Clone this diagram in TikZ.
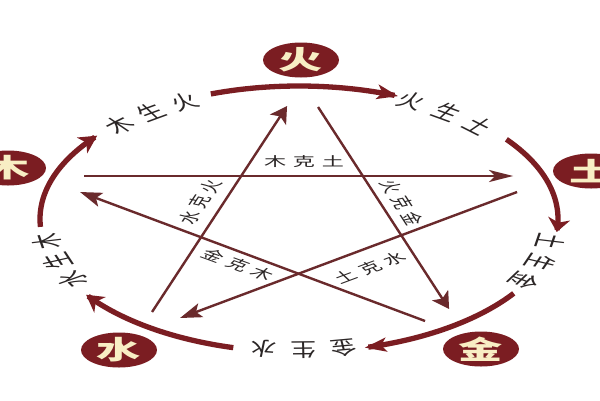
\documentclass[tikz,border=0pt]{standalone}
\usepackage{fontspec}
\newfontfamily\cjk{Noto Sans CJK SC}
\usetikzlibrary{arrows.meta,shapes.geometric}
\definecolor{wxred}{HTML}{7B1D22}
\definecolor{wxline}{HTML}{6A2A2C}
\definecolor{wxtext}{HTML}{2B2626}
\definecolor{wxcream}{HTML}{F8EEC4}
\tikzset{
  elem/.style={ellipse, fill=wxred, minimum width=44.7pt, minimum height=35pt, inner sep=0pt},
  elemtext/.style={text=wxcream, font=\cjk\bfseries\fontsize{26}{26}\selectfont, inner sep=0pt},
  gen/.style={xscale=0.8, text=wxtext, font=\cjk\fontsize{19}{19}\selectfont, inner sep=0pt},
  ke/.style={text=wxtext, font=\cjk\fontsize{13}{13}\selectfont, inner sep=0pt},
  kearrow/.style={draw=wxline, line width=2.4pt},
  genarrow/.style={draw=wxred, line width=5.3pt},
}
\begin{document}
\begin{tikzpicture}
\begin{scope}[x=0.5882353pt, y=-1pt, xscale=1.7, transform shape]
\useasboundingbox[fill=white] (0,0) rectangle (600,400);

% outer generating cycle
\draw[genarrow, -{Stealth[length=17.8pt,width=18.5pt,inset=5pt]}]
  plot[domain=183.4:141.2, samples=50] ({299+259*cos(\x)},{219-133*sin(\x)});
\draw[genarrow, -{Stealth[length=21pt,width=14.4pt,inset=5pt]}]
  plot[domain=109.9:67.5, samples=50] ({299+259*cos(\x)},{219-133*sin(\x)});
\draw[genarrow, -{Stealth[length=13.5pt,width=22pt,inset=4pt]}]
  plot[domain=36.8:-5.6, samples=50] ({299+259*cos(\x)},{219-133*sin(\x)});
\draw[genarrow, -{Stealth[length=21.5pt,width=13.8pt,inset=5pt]}]
  plot[domain=-34:-75.3, samples=50] ({299+259*cos(\x)},{219-133*sin(\x)});
\draw[genarrow, -{Stealth[length=17pt,width=19pt,inset=5pt]}]
  plot[domain=255.3:214.7, samples=50] ({299+259*cos(\x)},{219-133*sin(\x)});

\foreach \t/\c/\n in {134.5/木/g11, 125.5/生/g12, 116.5/火/g13,
                      64/火/g21, 54.7/生/g22, 45.4/土/g23,
                      -10/土/g31, -19.2/生/g32, -28.4/金/g33,
                      -80/金/g41, -89/生/g42, -98/水/g43,
                      207.5/水/g51, 198.7/生/g52, 190/木/g53}
  \node[rotate={atan2(-133*cos(\t),152.35*sin(\t))}, gen] (\n)
    at ({299+256*cos(\t)},{219-131*sin(\t)}) {\c};

% star (controlling cycle)
\coordinate (k1s) at (84,176);  \coordinate (k1e) at (513,176);
\coordinate (k2s) at (318,107); \coordinate (k2e) at (449,309);
\coordinate (k3s) at (152,312); \coordinate (k3e) at (287,106);
\coordinate (k4s) at (517,192); \coordinate (k4e) at (180,318);
\coordinate (k5s) at (425,321); \coordinate (k5e) at (80,192);

\draw[kearrow, -{Stealth[length=24pt,width=12pt,inset=6pt]}] (k1s) -- (k1e);
\draw[kearrow, -{Stealth[length=16.4pt,width=19pt,inset=4pt]}] (k2s) -- (k2e);
\draw[kearrow, -{Stealth[length=16.4pt,width=19pt,inset=4pt]}] (k3s) -- (k3e);
\draw[kearrow, -{Stealth[length=22pt,width=14.5pt,inset=5pt]}] (k4s) -- (k4e);
\draw[kearrow, -{Stealth[length=22pt,width=14.5pt,inset=5pt]}] (k5s) -- (k5e);

\node[ke] (k1t) at (304,162) {木\hspace{4pt}克\hspace{4pt}土};
\node[rotate=-69.2, ke] (k2t) at (402,203) {火\hspace{4pt}克\hspace{4pt}金};
\node[rotate=68.8, ke] (k3t) at (200,202) {水\hspace{4pt}克\hspace{4pt}火};
\node[rotate=32.4, ke] (k4t) at (370,268) {土\hspace{4pt}克\hspace{4pt}水};
\node[rotate=-31.8, ke] (k5t) at (238,265) {金\hspace{4pt}克\hspace{4pt}木};

% elements
\node[elem] (huo) at (301,60) {};
\node[elemtext] (huoT) at (huo.center) {火};
\node[elem] (tu) at (591,171) {};
\node[elemtext] (tuT) at (tu.center) {土};
\node[elem] (mu) at (8,168) {};
\node[elemtext] (muT) at (mu.center) {木};
\node[elem] (shui) at (119,350) {};
\node[elemtext] (shuiT) at (shui.center) {水};
\node[elem] (jin) at (481,349) {};
\node[elemtext] (jinT) at (jin.center) {金};
\end{scope}
\end{tikzpicture}
\end{document}
